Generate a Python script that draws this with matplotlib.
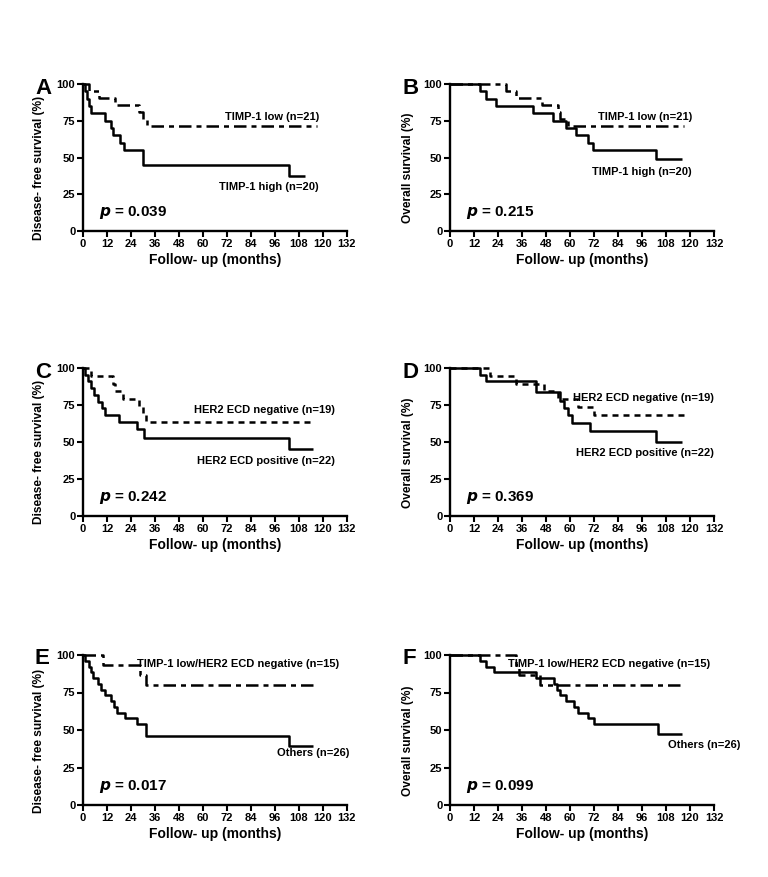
import matplotlib
matplotlib.use("Agg")
import matplotlib.pyplot as plt

plt.rcParams['font.family'] = ['Liberation Sans', 'DejaVu Sans']
plt.rcParams['font.weight'] = 'bold'

W, H = 768, 877

# ---- data (months, survival %) ----
A_low_t = [0, 3, 8, 16, 28, 30, 32, 117]
A_low_s = [100, 95.2, 90.5, 85.7, 81.0, 76.2, 71.4, 71.4]
A_high_t = [0, 1, 2, 3, 4.2, 10.8, 14.2, 15, 18.3, 20.5, 30, 103, 111]
A_high_s = [100, 95, 90, 85, 80, 75, 70, 65, 60, 55, 45, 37.5, 37.5]

B_low_t = [0, 28, 33, 46, 54, 55, 59, 117]
B_low_s = [100, 95.2, 90.5, 85.7, 81.0, 76.2, 71.4, 71.4]
B_high_t = [0, 15, 18, 23, 41.7, 51.3, 58, 63, 68.8, 71.3, 102.8, 116]
B_high_s = [100, 95, 90, 85, 80, 75, 70, 65, 60, 55, 48.9, 48.9]

C_neg_t = [0, 4, 15, 16, 20, 28, 30, 31.5, 116]
C_neg_s = [100, 94.7, 89.5, 84.2, 78.9, 73.7, 68.4, 63.2, 63.2]
C_pos_t = [0, 1, 2.5, 4, 5.5, 7.5, 9.5, 11, 18, 27, 30.5, 103, 115]
C_pos_s = [100, 95.5, 90.9, 86.4, 81.8, 77.3, 72.7, 68.2, 63.6, 59.1, 52.5, 45, 45]

D_neg_t = [0, 20, 33, 47, 54, 64, 72, 117]
D_neg_s = [100, 94.7, 89.5, 84.2, 78.9, 73.7, 68.4, 68.4]
D_pos_t = [0, 15, 18, 43, 55, 57, 59, 61, 70, 103, 116]
D_pos_s = [100, 95.5, 90.9, 84, 78, 73, 68, 63, 57.5, 50, 50]

E_low_t = [0, 10, 28.5, 31.5, 117]
E_low_s = [100, 93.3, 86.7, 80, 80]
E_oth_t = [0, 1, 3, 4, 5, 7.5, 9, 11, 14, 15.5, 17, 21, 27, 31.5, 103, 115]
E_oth_s = [100, 96.2, 92.3, 88.5, 84.6, 80.8, 76.9, 73.1, 69.2, 65.4, 61.5, 57.7, 53.8, 46.2, 39.6, 39.6]

F_low_t = [0, 33, 34.5, 45, 117]
F_low_s = [100, 93.3, 86.7, 80, 80]
F_oth_t = [0, 15, 18, 22, 43, 52, 53.5, 55, 58, 62, 64, 69, 72, 104, 116]
F_oth_s = [100, 96.2, 92.3, 88.5, 84.6, 80.8, 76.9, 73.1, 69.2, 65.4, 61.5, 57.7, 53.8, 47.1, 47.1]

x_ticks = list(range(0, 133, 12))
y_ticks = [0, 25, 50, 75, 100]
p_values = ["0.039", "0.215", "0.242", "0.369", "0.017", "0.099"]
letters = ["A", "B", "C", "D", "E", "F"]
ylabels = ["Disease- free survival (%)", "Overall survival (%)"] * 3
xlabel = "Follow- up (months)"

DASHDOT = (0, (5.0, 2.0, 2.0, 2.0))
SHORTDASH = (0, (2.4, 2.0))

panels = [
    dict(curves=[(A_low_t, A_low_s, DASHDOT), (A_high_t, A_high_s, '-')],
         labels=[("TIMP-1 low (n=21)", 118, 77.5), ("TIMP-1 high (n=20)", 118, 30)]),
    dict(curves=[(B_low_t, B_low_s, DASHDOT), (B_high_t, B_high_s, '-')],
         labels=[("TIMP-1 low (n=21)", 121, 77.5), ("TIMP-1 high (n=20)", 121, 40)]),
    dict(curves=[(C_neg_t, C_neg_s, SHORTDASH), (C_pos_t, C_pos_s, '-')],
         labels=[("HER2 ECD negative (n=19)", 126, 71.5), ("HER2 ECD positive (n=22)", 126, 37.5)]),
    dict(curves=[(D_neg_t, D_neg_s, SHORTDASH), (D_pos_t, D_pos_s, '-')],
         labels=[("HER2 ECD negative (n=19)", 132, 80), ("HER2 ECD positive (n=22)", 132, 42.5)]),
    dict(curves=[(E_low_t, E_low_s, DASHDOT), (E_oth_t, E_oth_s, '-')],
         labels=[("TIMP-1 low/HER2 ECD negative (n=15)", 128, 94), ("Others (n=26)", 133, 34.5)]),
    dict(curves=[(F_low_t, F_low_s, DASHDOT), (F_oth_t, F_oth_s, '-')],
         labels=[("TIMP-1 low/HER2 ECD negative (n=15)", 130, 94), ("Others (n=26)", 145, 40)]),
]

# axes rectangles in pixels: left, top(100%), width, bottom(0%)
col_left = [83, 450]
row_top = [84, 368, 655]
row_bot = [231, 516, 805]
ax_w = 264

fig = plt.figure(figsize=(W / 100, H / 100), dpi=100)

for i, pan in enumerate(panels):
    r, c = divmod(i, 2)
    left = col_left[c]
    top = row_top[r]
    bot = row_bot[r]
    ax = fig.add_axes([left / W, (H - bot) / H, ax_w / W, (bot - top) / H])
    for t, s, ls in pan['curves']:
        ax.step(t, s, where='post', color='black', lw=1.8, linestyle=ls,
                clip_on=False, solid_capstyle='butt', dash_capstyle='butt')
    ax.set_xlim(0, 132)
    ax.set_ylim(0, 100)
    ax.set_xticks(x_ticks)
    ax.set_yticks(y_ticks)
    for sp in ['top', 'right']:
        ax.spines[sp].set_visible(False)
    for sp in ['left', 'bottom']:
        ax.spines[sp].set_linewidth(1.7)
    ax.tick_params(direction='out', length=4, width=1.5, labelsize=8, pad=1.5)
    for lab in ax.get_xticklabels() + ax.get_yticklabels():
        lab.set_fontweight('bold')
    ax.set_ylabel(ylabels[i], fontsize=8.6, fontweight='bold', labelpad=4)
    ax.yaxis.set_label_coords(-0.145 if c == 0 else -0.135, 0.43)
    ax.set_xlabel(xlabel, fontsize=10, fontweight='bold', labelpad=3)
    for txt, x, y in pan['labels']:
        ax.text(x, y, txt, ha='right', va='center', fontsize=8, fontweight='bold',
                clip_on=False)
    ax.text(8, 12.5, r"$\mathbfit{p}$" + " = " + p_values[i], ha='left', va='center',
            fontsize=11, fontweight='bold')
    fig.text((left - 48) / W, 1 - (top + 4) / H, letters[i], fontsize=16,
             fontweight='bold', ha='left', va='center')

fig.savefig("out.png", dpi=100, facecolor='white')
